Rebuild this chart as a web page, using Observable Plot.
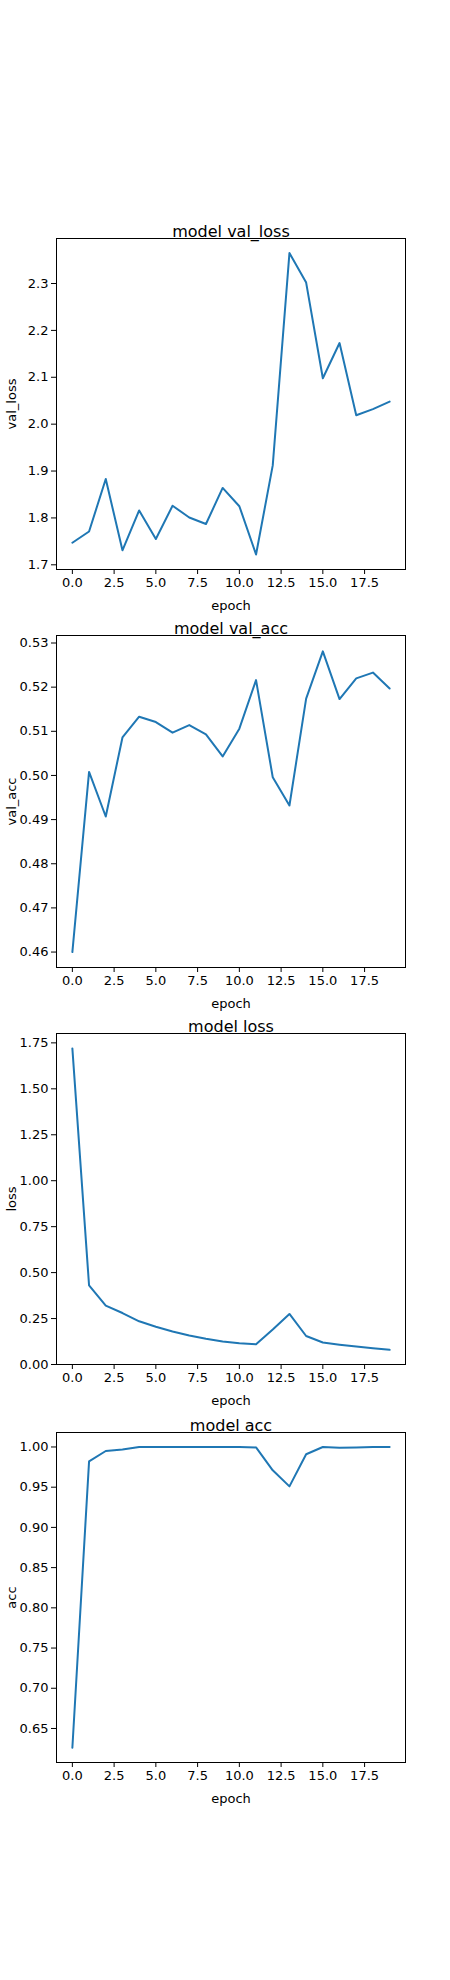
<!DOCTYPE html>
<html>
<head>
<meta charset="utf-8">
<script src="https://cdn.jsdelivr.net/npm/d3@7"></script>
<script src="https://cdn.jsdelivr.net/npm/@observablehq/plot@0.6"></script>
<style>
  body { margin: 0; background: #fff; }
  #wrap { position: relative; width: 450px; height: 1980px; }
  .panel { position: absolute; left: 0; }
  svg { overflow: visible; font-family: "DejaVu Sans", sans-serif; }
</style>
</head>
<body>
<div id="wrap"></div>
<script>
var epochs = d3.range(20)

var val_loss = [1.747, 1.771, 1.883, 1.731, 1.816, 1.755, 1.826, 1.801, 1.787, 1.864,
                1.825, 1.722, 1.912, 2.365, 2.302, 2.098, 2.173, 2.019, 2.032, 2.048]
var val_acc = [0.4600, 0.5008, 0.4907, 0.5086, 0.5133, 0.5121, 0.5097, 0.5114, 0.5093, 0.5043,
               0.5106, 0.5216, 0.4996, 0.4932, 0.5174, 0.5281, 0.5173, 0.5220, 0.5233, 0.5197]
var loss = [1.72, 0.43, 0.32, 0.28, 0.235, 0.205, 0.18, 0.158, 0.14, 0.125,
            0.115, 0.11, 0.19, 0.275, 0.155, 0.12, 0.108, 0.098, 0.088, 0.08]
var acc = [0.626, 0.982, 0.995, 0.997, 1.0, 1.0, 1.0, 1.0, 1.0, 1.0,
           1.0, 0.9995, 0.971, 0.951, 0.991, 1.0, 0.999, 0.9995, 1.0, 1.0]

var xTicks = [0, 2.5, 5, 7.5, 10, 12.5, 15, 17.5]

var panels = [
  {name: "val_loss", values: val_loss, top: 238, h: 331, domain: [1.690, 2.396], ticks: [1.7, 1.8, 1.9, 2.0, 2.1, 2.2, 2.3], fmt: ".1f"},
  {name: "val_acc", values: val_acc, top: 635, h: 332, domain: [0.4565, 0.5317], ticks: [0.46, 0.47, 0.48, 0.49, 0.50, 0.51, 0.52, 0.53], fmt: ".2f"},
  {name: "loss", values: loss, top: 1033, h: 331, domain: [0, 1.801], ticks: [0, 0.25, 0.5, 0.75, 1.0, 1.25, 1.5, 1.75], fmt: ".2f"},
  {name: "acc", values: acc, top: 1432, h: 330, domain: [0.6077, 1.018], ticks: [0.65, 0.70, 0.75, 0.80, 0.85, 0.90, 0.95, 1.00], fmt: ".2f"}
]

panels.forEach(p => {
  var data = epochs.map((e, i) => ({epoch: e, v: p.values[i]}))
  var mt = 35, mb = 45
  var chart = Plot.plot({
    width: 450,
    height: mt + p.h + mb,
    marginTop: mt,
    marginBottom: mb,
    marginLeft: 56,
    marginRight: 45,
    style: {fontSize: "13px", fontFamily: "DejaVu Sans, sans-serif", color: "#000"},
    x: {domain: [-0.95, 19.95]},
    y: {domain: p.domain},
    marks: [
      Plot.axisX({ticks: xTicks, tickFormat: d3.format(".1f"), tickSize: 5, tickPadding: 3,
        label: "epoch", labelAnchor: "center", labelArrow: "none", labelOffset: 40, fontSize: 13}),
      Plot.axisY({ticks: p.ticks, tickFormat: d3.format(p.fmt), tickSize: 5, tickPadding: 3,
        label: p.name, labelAnchor: "center", labelArrow: "none", labelOffset: 50, fontSize: 13}),
      Plot.line(data, {x: "epoch", y: "v", stroke: "#1f77b4", strokeWidth: 2}),
      Plot.frame({stroke: "#000", strokeWidth: 1}),
      Plot.text(["model " + p.name], {frameAnchor: "top", dy: -13, fontSize: 16, fill: "#000"})
    ]
  })
  var div = d3.select("#wrap").append("div").attr("class", "panel").style("top", (p.top - mt) + "px")
  div.append(() => chart)
})
</script>
</body>
</html>
